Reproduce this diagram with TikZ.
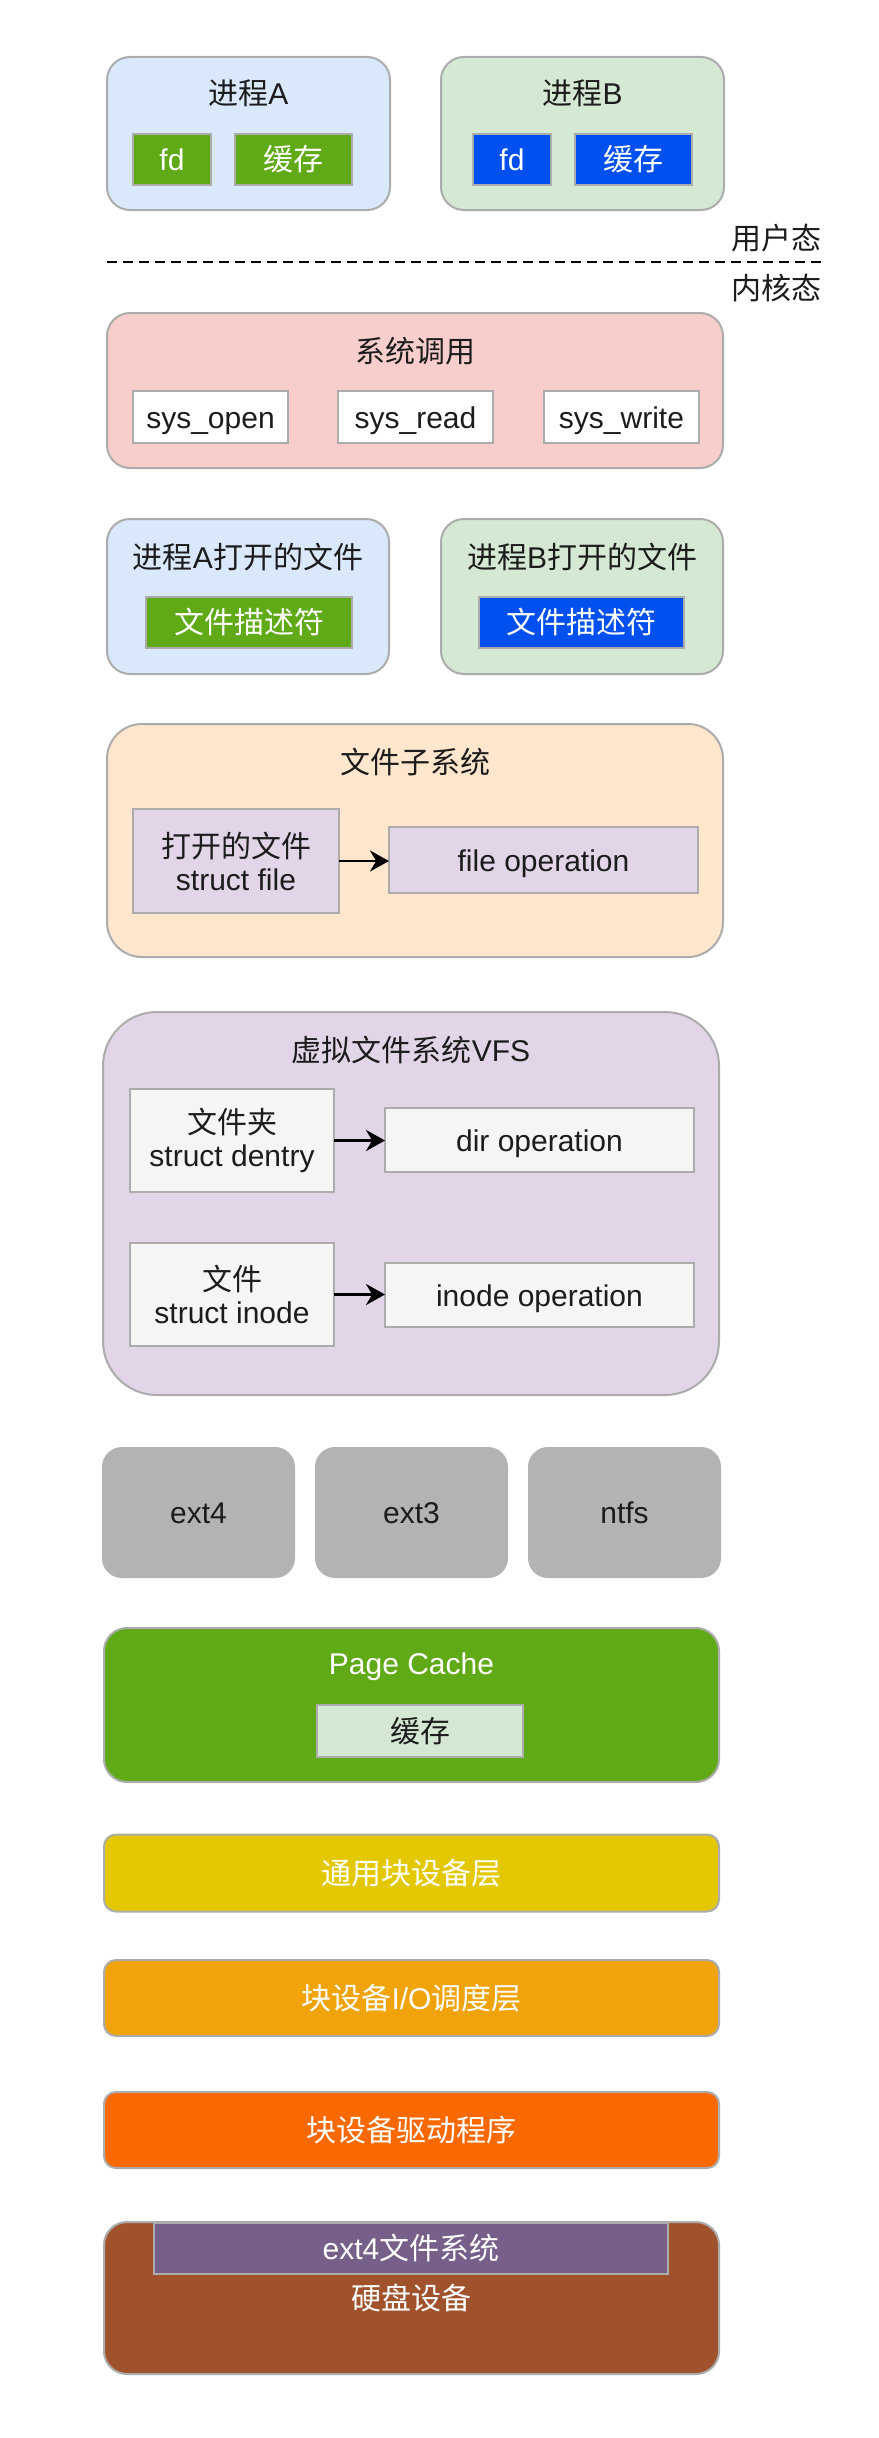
\documentclass[tikz,border=0pt]{standalone}
\usepackage{fontspec}
\setmainfont{Liberation Sans}
\newfontfamily\cjk{Noto Sans CJK SC}
\usetikzlibrary{arrows.meta}
\definecolor{bordergray}{RGB}{172,172,172}
\definecolor{txt}{RGB}{28,28,28}
\definecolor{cBlue}{HTML}{DAE8FC}
\definecolor{cGreenL}{HTML}{D5E8D4}
\definecolor{cGreen}{HTML}{60A917}
\definecolor{cBlueD}{HTML}{0050EF}
\definecolor{cRed}{HTML}{F8CECC}
\definecolor{cOrangeL}{HTML}{FFE6CC}
\definecolor{cPurpleL}{HTML}{E1D5E7}
\definecolor{cGrayL}{HTML}{F5F5F5}
\definecolor{cGray}{HTML}{B3B3B3}
\definecolor{cYellow}{HTML}{E3C800}
\definecolor{cAmber}{HTML}{F0A30A}
\definecolor{cOrange}{HTML}{FA6800}
\definecolor{cBrown}{HTML}{A0522D}
\definecolor{cViolet}{HTML}{76608A}
\newcommand\fsz{\fontsize{30}{35}\selectfont}
\tikzset{
  base/.style={draw=bordergray, line width=2pt, inner sep=0pt, outer sep=0pt, font=\fsz, text=txt, align=center},
  rbox/.style={base, rounded corners=#1},
  sbox/.style={base},
  one/.style={text height=24pt, text depth=2pt},
  lbl/.style={inner sep=0pt, font=\fsz, text=txt, align=center},
  wlbl/.style={lbl, text=white},
  arr/.style={line width=2.8pt, -{Stealth[length=19pt,width=21pt]}},
}
\begin{document}
\begin{tikzpicture}[x=1pt,y=-1pt]
\useasboundingbox (0,0) rectangle (878,2438);
\fill[white] (0,0) rectangle (878,2438);

% Process A / B
\node[rbox=23, fill=cBlue, minimum width=283pt, minimum height=153pt] (pA) at (248.5,133.5) {};
\node[lbl] (tA) at (248.5,93) {{\cjk 进程}A};
\node[sbox, one, fill=cGreen, text=white, minimum width=78pt, minimum height=51pt] (fdA) at (172,159.5) {fd};
\node[sbox, one, fill=cGreen, text=white, minimum width=117pt, minimum height=51pt] (cacheA) at (293.5,159.5) {\cjk 缓存};
\node[rbox=23, fill=cGreenL, minimum width=283pt, minimum height=153pt] (pB) at (582.5,133.5) {};
\node[lbl] (tB) at (582.5,93) {{\cjk 进程}B};
\node[sbox, one, fill=cBlueD, text=white, minimum width=78pt, minimum height=51pt] (fdB) at (512,159.5) {fd};
\node[sbox, one, fill=cBlueD, text=white, minimum width=117pt, minimum height=51pt] (cacheB) at (633.5,159.5) {\cjk 缓存};

% user / kernel separation
\node[lbl] (user) at (776,238) {\cjk 用户态};
\coordinate (dl) at (107,262);
\coordinate (dr) at (824,262);
\draw[line width=2.5pt, dash pattern=on 10pt off 6pt] (dl) -- (dr);
\node[lbl] (kern) at (776,288) {\cjk 内核态};

% system call
\node[rbox=23, fill=cRed, minimum width=616pt, minimum height=155pt] (sc) at (415,390.5) {};
\node[lbl] (tsc) at (415,351) {\cjk 系统调用};
\node[sbox, one, fill=white, minimum width=155pt, minimum height=52pt] (sopen) at (210.5,417) {sys\_open};
\node[sbox, one, fill=white, minimum width=155pt, minimum height=52pt] (sread) at (415.5,417) {sys\_read};
\node[sbox, one, fill=white, minimum width=155pt, minimum height=52pt] (swrite) at (621.5,417) {sys\_write};

% opened files
\node[rbox=23, fill=cBlue, minimum width=282pt, minimum height=155pt] (oA) at (248,596.5) {};
\node[lbl] (toA) at (248,557) {{\cjk 进程}A{\cjk 打开的文件}};
\node[sbox, one, fill=cGreen, text=white, minimum width=206pt, minimum height=51pt] (fdsA) at (249,622.5) {\cjk 文件描述符};
\node[rbox=23, fill=cGreenL, minimum width=282pt, minimum height=155pt] (oB) at (582,596.5) {};
\node[lbl] (toB) at (582,557) {{\cjk 进程}B{\cjk 打开的文件}};
\node[sbox, one, fill=cBlueD, text=white, minimum width=205pt, minimum height=51pt] (fdsB) at (581.5,622.5) {\cjk 文件描述符};

% file subsystem
\node[rbox=35, fill=cOrangeL, minimum width=616pt, minimum height=233pt] (fs) at (415,840.5) {};
\node[lbl] (tfs) at (415,762) {\cjk 文件子系统};
\node[sbox, fill=cPurpleL, minimum width=206pt, minimum height=104pt] (of) at (236,861) {{\cjk 打开的文件}\\[-2pt]struct file};
\node[sbox, one, fill=cPurpleL, minimum width=309pt, minimum height=66pt] (fop) at (543.5,860) {file operation};
\draw[arr] (of.east) -- (of.east -| fop.west);

% VFS
\node[rbox=54, fill=cPurpleL, minimum width=616pt, minimum height=383pt] (vfs) at (411,1203.5) {};
\node[lbl] (tvfs) at (411,1050) {{\cjk 虚拟文件系统}VFS};
\node[sbox, fill=cGrayL, minimum width=204pt, minimum height=103pt] (dent) at (232,1140.5) {{\cjk 文件夹}\\[-2pt]struct dentry};
\node[sbox, one, fill=cGrayL, minimum width=309pt, minimum height=64pt] (dop) at (539.5,1140) {dir operation};
\draw[arr] (dent.east) -- (dent.east -| dop.west);
\node[sbox, fill=cGrayL, minimum width=204pt, minimum height=103pt] (ino) at (232,1294.5) {{\cjk 文件}\\[-2pt]struct inode};
\node[sbox, one, fill=cGrayL, minimum width=309pt, minimum height=64pt] (iop) at (539.5,1295) {inode operation};
\draw[arr] (ino.east) -- (ino.east -| iop.west);

% concrete file systems
\node[rbox=19, one, fill=cGray, draw=cGray, minimum width=191pt, minimum height=129pt] (e4) at (198.5,1512.5) {ext4};
\node[rbox=19, one, fill=cGray, draw=cGray, minimum width=191pt, minimum height=129pt] (e3) at (411.5,1512.5) {ext3};
\node[rbox=19, one, fill=cGray, draw=cGray, minimum width=191pt, minimum height=129pt] (nt) at (624.5,1512.5) {ntfs};

% page cache
\node[rbox=23, fill=cGreen, minimum width=615pt, minimum height=154pt] (pc) at (411.5,1705) {};
\node[wlbl] (tpc) at (411.5,1667) {Page Cache};
\node[sbox, one, fill=cGreenL, minimum width=206pt, minimum height=52pt] (pcc) at (420,1731) {\cjk 缓存};

% block layers
\node[rbox=12, one, fill=cYellow, text=white, minimum width=615pt, minimum height=77pt] (gb) at (411.5,1873) {\cjk 通用块设备层};
\node[rbox=12, one, fill=cAmber, text=white, minimum width=615pt, minimum height=76pt] (io) at (411.5,1998) {{\cjk 块设备}I/O{\cjk 调度层}};
\node[rbox=12, one, fill=cOrange, text=white, minimum width=615pt, minimum height=76pt] (drv) at (411.5,2130) {\cjk 块设备驱动程序};

% disk
\node[rbox=23, one, fill=cBrown, text=white, minimum width=615pt, minimum height=152pt] (hd) at (411.5,2298) {\cjk 硬盘设备};
\node[sbox, one, fill=cViolet, text=white, minimum width=514pt, minimum height=51pt] (e4fs) at (411,2248.5) {ext4{\cjk 文件系统}};
\end{tikzpicture}
\end{document}
